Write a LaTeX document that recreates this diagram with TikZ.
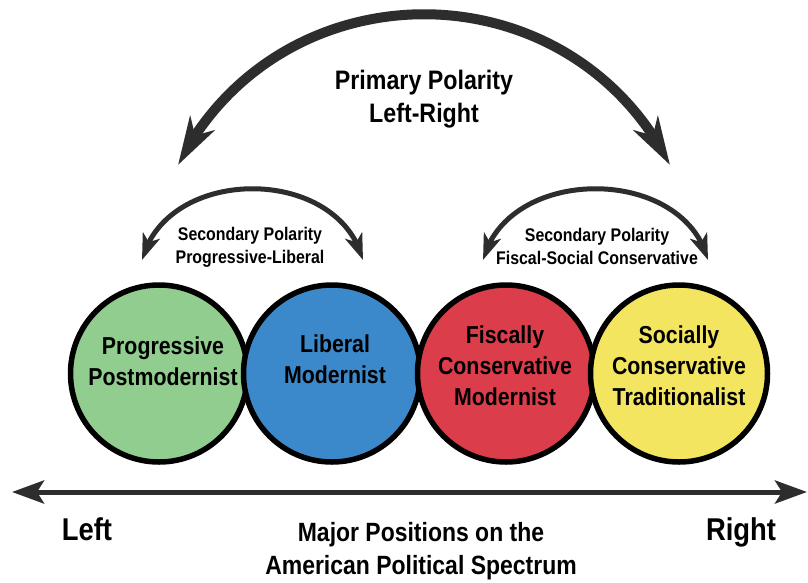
\documentclass[tikz,border=0pt]{standalone}
\usepackage{fontspec}
\setmainfont{Liberation Sans}[FakeStretch=0.87]
\usepackage{tikz}
\usetikzlibrary{arrows.meta,bending,positioning}
\definecolor{progGreen}{RGB}{145,205,142}
\definecolor{libBlue}{RGB}{59,137,202}
\definecolor{fiscRed}{RGB}{219,62,74}
\definecolor{socYellow}{RGB}{243,229,96}
\definecolor{arcGray}{RGB}{45,45,45}
\tikzset{
poscircle/.style={circle, draw=black, line width=5.5pt, minimum size=177pt, inner sep=0pt}, % the four position circles
poslabel/.style={align=center, inner sep=0pt, font=\bfseries\fontsize{24.5}{31}\selectfont},
bigarc/.style={draw=arcGray, line width=10pt, {Stealth[length=48pt,width=28pt,inset=14pt,flex]}-{Stealth[length=48pt,width=28pt,inset=14pt,flex]}},
smallarc/.style={draw=arcGray, line width=5pt, {Stealth[length=26pt,width=18pt,inset=7pt,flex]}-{Stealth[length=26pt,width=18pt,inset=7pt,flex]}},
axis/.style={draw=arcGray, line width=5pt, {Stealth[length=32pt,width=23pt,inset=7pt]}-{Stealth[length=32pt,width=23pt,inset=7pt]}},
}

\begin{document}
\begin{tikzpicture}[x=1pt,y=1pt,yscale=-1,xscale=1]
\useasboundingbox (0,0) rectangle (808,582);

% Circles
\node [poscircle, fill=progGreen] (prog) at (159,373.5) {};
\node [poscircle, fill=libBlue] (lib) at (332,373.5) {};
\node [poscircle, fill=fiscRed] (fisc) at (506,373.5) {};
\node [poscircle, fill=socYellow] (soc) at (679,373.5) {};

% Text Node
\node [poslabel] (prog-txt) at (163,361) {Progressive\\Postmodernist};
\node [poslabel] (lib-txt) at (335,359) {Liberal\\Modernist};
\node [poslabel] (fisc-txt) at (505,366) {Fiscally\\Conservative\\Modernist};
\node [poslabel] (soc-txt) at (679,366) {Socially\\Conservative\\Traditionalist};

% Text Node
\node [align=center, inner sep=0pt, font=\bfseries\fontsize{26.7}{33}\selectfont] (primary) at (424,99) {Primary Polarity\\Left-Right};
\node [align=center, inner sep=0pt, font=\bfseries\fontsize{18.3}{22.5}\selectfont] (second-l) at (250,247.5) {Secondary Polarity\\Progressive-Liberal};
\node [align=center, inner sep=0pt, font=\bfseries\fontsize{18.3}{22.5}\selectfont] (second-r) at (597,246.5) {Secondary Polarity\\Fiscal-Social Conservative};

% Connection
\coordinate (big-l) at (178,165);
\coordinate (big-r) at (670,165);
\draw [bigarc] (big-l) .. controls +(102,-201) and +(-102,-201) .. (big-r);

% Connection
\coordinate (sl-l) at (142,260);
\coordinate (sl-r) at (363,260);
\draw [smallarc] (sl-l) .. controls +(25,-95) and +(-25,-95) .. (sl-r);
\coordinate (sr-l) at (483,260);
\coordinate (sr-r) at (708,260);
\draw [smallarc] (sr-l) .. controls +(25,-95) and +(-25,-95) .. (sr-r);

% Spectrum axis
\coordinate (axis-l) at (12,492);
\coordinate (axis-r) at (807,492);
\draw [axis] (axis-l) -- (axis-r);

% Text Node
\node [anchor=base, inner sep=0pt, font=\bfseries\fontsize{31.5}{36}\selectfont] (left) at (87,540) {Left};
\node [anchor=base, inner sep=0pt, font=\bfseries\fontsize{31.5}{36}\selectfont] (right) at (741,540) {Right};
\node [align=center, inner sep=0pt, font=\bfseries\fontsize{26.4}{33}\selectfont] (caption) at (421,551) {Major Positions on the\\American Political Spectrum};

\end{tikzpicture}
\end{document}
